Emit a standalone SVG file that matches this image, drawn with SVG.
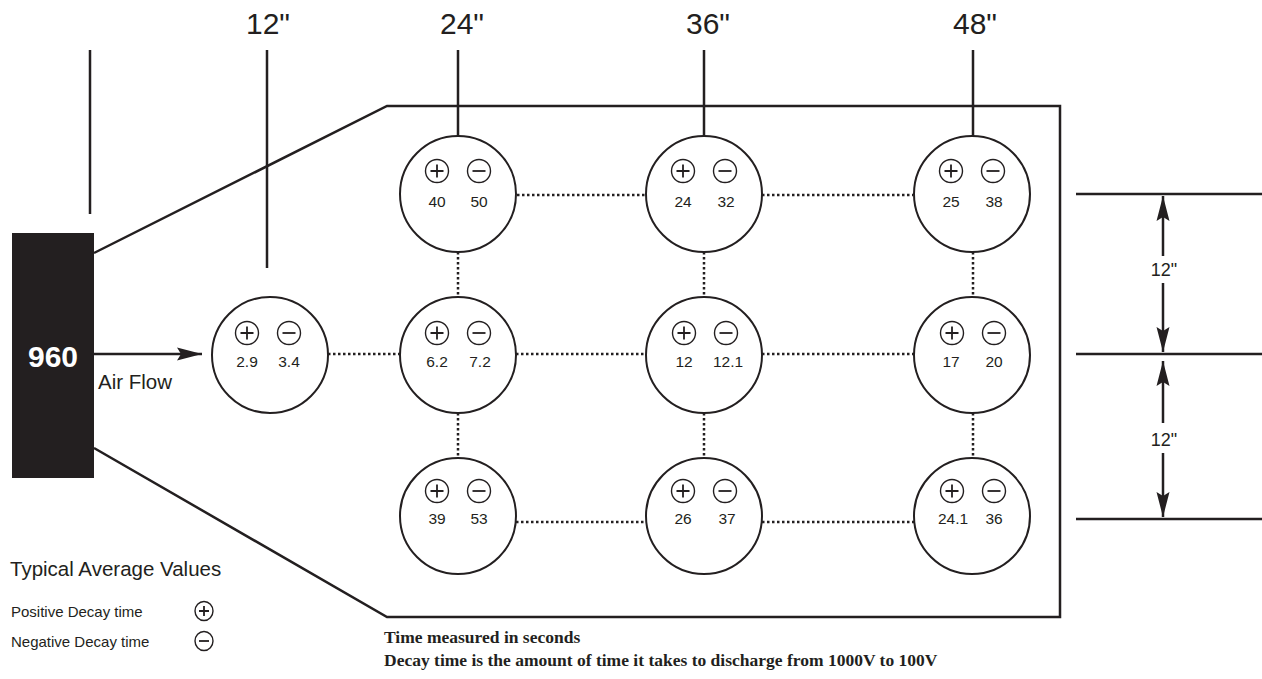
<svg xmlns="http://www.w3.org/2000/svg" width="1262" height="679" viewBox="0 0 1262 679">
<style>
.ln{stroke:#231f20;stroke-width:2.5;fill:none}
.dot{stroke:#231f20;stroke-width:2.5;fill:none;stroke-dasharray:2.5 2.5}
.big{fill:#fff;stroke:#231f20;stroke-width:2}
.sm{fill:#fff;stroke:#231f20;stroke-width:1.4}
.sg{stroke:#231f20;stroke-width:1.8;fill:none}
.num{font-family:"Liberation Sans",Arial,sans-serif;font-size:15.5px;fill:#231f20;text-anchor:middle}
.lbl{font-family:"Liberation Sans",Arial,sans-serif;fill:#231f20}
.note{font-family:"Liberation Serif","Times New Roman",serif;font-weight:bold;font-size:17.5px;fill:#231f20}
</style>
<defs>
<marker id="ah" markerUnits="userSpaceOnUse" markerWidth="30" markerHeight="18" viewBox="-26 -9 30 18" refX="0" refY="0" orient="auto">
<path d="M0,0 L-25,-6.5 L-21,0 L-25,6.5 Z" fill="#231f20"/>
</marker>
<g id="pm">
<circle class="sm" cx="-21" cy="0" r="11.5"/>
<path class="sg" d="M-27.5,0 H-14.5 M-21,-6.5 V6.5"/>
<circle class="sm" cx="21" cy="0" r="11.5"/>
<path class="sg" d="M14.5,0 H27.5"/>
</g>
</defs>
<rect width="1262" height="679" fill="#fff"/>

<g id="housing">
<path class="ln" d="M94,253 L387,106 L1060,106 L1060,617 L387,617 L94,448"/>
</g>

<g id="ticks">
<path class="ln" d="M90,50 V214 M267,50 V268 M458,50 V136 M704,50 V136 M973,50 V136"/>
<text class="lbl" x="268" y="34" font-size="30" text-anchor="middle">12"</text>
<text class="lbl" x="462" y="34" font-size="30" text-anchor="middle">24"</text>
<text class="lbl" x="708" y="34" font-size="30" text-anchor="middle">36"</text>
<text class="lbl" x="975" y="34" font-size="30" text-anchor="middle">48"</text>
</g>

<g id="connectors">
<path class="dot" d="M517,195 H646 M762,195 H913"/>
<path class="dot" d="M328,354 H400 M516,354 H646 M762,354 H914"/>
<path class="dot" d="M516,522 H646 M762,522 H914"/>
<path class="dot" d="M458,252 V297 M458,413 V458 M704,252 V297 M704,413 V458 M973,252 V297 M973,413 V458"/>
<path class="ln" d="M94,354 H202" marker-end="url(#ah)"/>
</g>

<g id="source">
<rect x="12" y="233" width="82" height="245" fill="#231f20"/>
<text x="53" y="367" font-family="Liberation Sans,Arial,sans-serif" font-weight="bold" font-size="30" fill="#fff" text-anchor="middle">960</text>
<text class="lbl" x="98" y="389" font-size="20.5">Air Flow</text>
</g>

<g id="n12"><circle class="big" cx="270" cy="355" r="58"/><use href="#pm" x="268" y="333"/><text class="num" x="247" y="367">2.9</text><text class="num" x="289" y="367">3.4</text></g>

<g id="n24a"><circle class="big" cx="458" cy="194" r="58"/><use href="#pm" x="458" y="171"/><text class="num" x="437" y="207">40</text><text class="num" x="479" y="207">50</text></g>
<g id="n24b"><circle class="big" cx="458" cy="355" r="58"/><use href="#pm" x="458" y="333"/><text class="num" x="437" y="367">6.2</text><text class="num" x="480" y="367">7.2</text></g>
<g id="n24c"><circle class="big" cx="458" cy="516" r="58"/><use href="#pm" x="458" y="491"/><text class="num" x="437" y="524">39</text><text class="num" x="479" y="524">53</text></g>

<g id="n36a"><circle class="big" cx="704" cy="194" r="58"/><use href="#pm" x="704" y="171"/><text class="num" x="683" y="207">24</text><text class="num" x="726" y="207">32</text></g>
<g id="n36b"><circle class="big" cx="704" cy="355" r="58"/><use href="#pm" x="705" y="333"/><text class="num" x="684" y="367">12</text><text class="num" x="728" y="367">12.1</text></g>
<g id="n36c"><circle class="big" cx="704" cy="516" r="58"/><use href="#pm" x="704" y="491"/><text class="num" x="683" y="524">26</text><text class="num" x="727" y="524">37</text></g>

<g id="n48a"><circle class="big" cx="972" cy="194" r="58"/><use href="#pm" x="972" y="171"/><text class="num" x="951" y="207">25</text><text class="num" x="994" y="207">38</text></g>
<g id="n48b"><circle class="big" cx="972" cy="355" r="58"/><use href="#pm" x="973" y="333"/><text class="num" x="951" y="367">17</text><text class="num" x="994" y="367">20</text></g>
<g id="n48c"><circle class="big" cx="972" cy="516" r="58"/><use href="#pm" x="973" y="491"/><text class="num" x="953" y="524">24.1</text><text class="num" x="994" y="524">36</text></g>

<g id="dimensions">
<path class="ln" d="M1076,194 H1262 M1076,354 H1262 M1076,519 H1262"/>
<path class="ln" d="M1163,256 V196" marker-end="url(#ah)"/>
<path class="ln" d="M1163,283 V352" marker-end="url(#ah)"/>
<path class="ln" d="M1163,423 V361" marker-end="url(#ah)"/>
<path class="ln" d="M1163,453 V517" marker-end="url(#ah)"/>
<text class="lbl" x="1164" y="276" font-size="18" text-anchor="middle">12"</text>
<text class="lbl" x="1164" y="446" font-size="18" text-anchor="middle">12"</text>
</g>

<g id="legend">
<text class="lbl" x="10" y="576" font-size="20.5">Typical Average Values</text>
<text class="lbl" x="11" y="617" font-size="15">Positive Decay time</text>
<text class="lbl" x="11" y="647" font-size="15">Negative Decay time</text>
<ellipse class="sm" cx="204" cy="611" rx="9" ry="9.5"/>
<path class="sg" d="M199,611 H209 M204,606 V616"/>
<ellipse class="sm" cx="204" cy="641" rx="9" ry="9.5"/>
<path class="sg" d="M199,641 H209"/>
</g>

<g id="notes">
<text class="note" x="384" y="643">Time measured in seconds</text>
<text class="note" x="384" y="666">Decay time is the amount of time it takes to discharge from 1000V to 100V</text>
</g>
</svg>
